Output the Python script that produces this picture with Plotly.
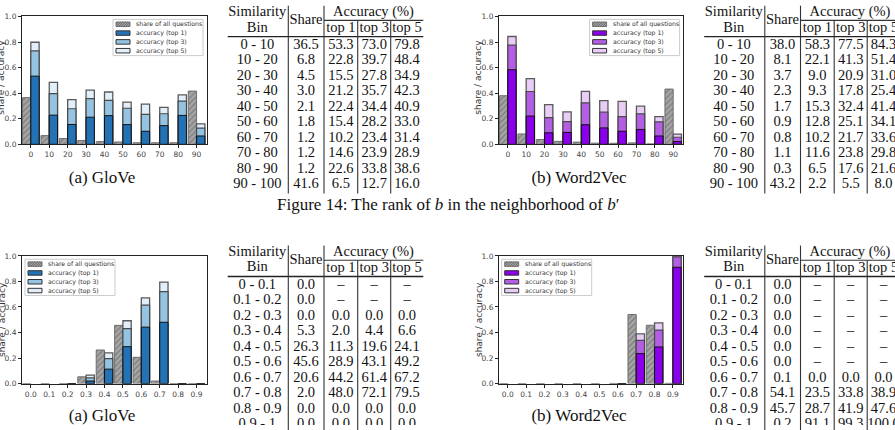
import plotly.graph_objects as go

W, H = 895, 430

# ---------------- data ----------------
top_bins = [0, 10, 20, 30, 40, 50, 60, 70, 80, 90]
top_bin_labels = ["0 - 10", "10 - 20", "20 - 30", "30 - 40", "40 - 50",
                  "50 - 60", "60 - 70", "70 - 80", "80 - 90", "90 - 100"]
top_tick_labels = ["0", "10", "20", "30", "40", "50", "60", "70", "80", "90"]

bot_bins = [0.0, 0.1, 0.2, 0.3, 0.4, 0.5, 0.6, 0.7, 0.8, 0.9]
bot_bin_labels = ["0 - 0.1", "0.1 - 0.2", "0.2 - 0.3", "0.3 - 0.4", "0.4 - 0.5",
                  "0.5 - 0.6", "0.6 - 0.7", "0.7 - 0.8", "0.8 - 0.9", "0.9 - 1"]
bot_tick_labels = ["0.0", "0.1", "0.2", "0.3", "0.4", "0.5", "0.6", "0.7", "0.8", "0.9"]

glove_rank_share = [36.5, 6.8, 4.5, 3.0, 2.1, 1.8, 1.2, 1.2, 1.2, 41.6]
glove_rank_top1 = [53.3, 22.8, 15.5, 21.2, 22.4, 15.4, 10.2, 14.6, 22.6, 6.5]
glove_rank_top3 = [73.0, 39.7, 27.8, 35.7, 34.4, 28.2, 23.4, 23.9, 33.8, 12.7]
glove_rank_top5 = [79.8, 48.4, 34.9, 42.3, 40.9, 33.0, 31.4, 28.9, 38.6, 16.0]

w2v_rank_share = [38.0, 8.1, 3.7, 2.3, 1.7, 0.9, 0.8, 1.1, 0.3, 43.2]
w2v_rank_top1 = [58.3, 22.1, 9.0, 9.3, 15.3, 12.8, 10.2, 11.6, 6.5, 2.2]
w2v_rank_top3 = [77.5, 41.3, 20.9, 17.8, 32.4, 25.1, 21.7, 23.8, 17.6, 5.5]
w2v_rank_top5 = [84.3, 51.4, 31.0, 25.4, 41.4, 34.1, 33.6, 29.8, 21.6, 8.0]

glove_sim_share = [0.0, 0.0, 0.0, 5.3, 26.3, 45.6, 20.6, 2.0, 0.0, 0.0]
glove_sim_top1 = [None, None, 0.0, 2.0, 11.3, 28.9, 44.2, 48.0, 0.0, 0.0]
glove_sim_top3 = [None, None, 0.0, 4.4, 19.6, 43.1, 61.4, 72.1, 0.0, 0.0]
glove_sim_top5 = [None, None, 0.0, 6.6, 24.1, 49.2, 67.2, 79.5, 0.0, 0.0]

w2v_sim_share = [0.0, 0.0, 0.0, 0.0, 0.0, 0.0, 0.1, 54.1, 45.7, 0.2]
w2v_sim_top1 = [None, None, None, None, None, None, 0.0, 23.5, 28.7, 91.1]
w2v_sim_top3 = [None, None, None, None, None, None, 0.0, 33.8, 41.9, 99.3]
w2v_sim_top5 = [None, None, None, None, None, None, 0.0, 38.9, 47.6, 100.0]

legend_labels = ["share of all questions", "accuracy (top 1)",
                 "accuracy (top 3)", "accuracy (top 5)"]

glove_colors = ["#2372b6", "#94c4e2", "#e2eef9"]
w2v_colors = ["#8a00ea", "#b45ee6", "#e8cdf6"]
share_color = "#a6a6a6"
hatch_color = "#555555"


def px(x):
    return x / W


def py(y):
    return 1 - y / H


def frac(vals):
    return [None if v is None else v / 100.0 for v in vals]


fig = go.Figure()
shapes = []
annotations = []

serif = "Liberation Serif"
sans = "DejaVu Sans"

charts = [
    dict(i=1, bins=top_bins, ticks=top_tick_labels, unit=10.0,
         data=(glove_rank_share, glove_rank_top1, glove_rank_top3, glove_rank_top5),
         colors=glove_colors, box=(22, 12.7, 206.7, 143.3), leg=(113, 15.7)),
    dict(i=2, bins=top_bins, ticks=top_tick_labels, unit=10.0,
         data=(w2v_rank_share, w2v_rank_top1, w2v_rank_top3, w2v_rank_top5),
         colors=w2v_colors, box=(499, 12.7, 683.3, 143.3), leg=(589.6, 15.7)),
    dict(i=3, bins=bot_bins, ticks=bot_tick_labels, unit=0.1,
         data=(glove_sim_share, glove_sim_top1, glove_sim_top3, glove_sim_top5),
         colors=glove_colors, box=(22, 257.3, 206.7, 387.7), leg=(25, 260.7)),
    dict(i=4, bins=bot_bins, ticks=bot_tick_labels, unit=0.1,
         data=(w2v_sim_share, w2v_sim_top1, w2v_sim_top3, w2v_sim_top5),
         colors=w2v_colors, box=(499, 257.3, 683.0, 387.7), leg=(501.7, 260.7)),
]

layout_axes = {}
for c in charts:
    i = c["i"]
    xa = "x" if i == 1 else f"x{i}"
    ya = "y" if i == 1 else f"y{i}"
    u = c["unit"]
    bw = 0.45 * u
    share, t1, t3, t5 = c["data"]
    # share bars (hatched), left of tick
    fig.add_trace(go.Bar(
        x=c["bins"], y=frac(share), xaxis=xa, yaxis=ya,
        offset=-bw, width=bw,
        marker=dict(color=share_color,
                    line=dict(color="#6e6e6e", width=1),
                    pattern=dict(shape="/", fillmode="overlay", fgcolor=hatch_color,
                                 size=4, solidity=0.35)),
        showlegend=False, hoverinfo="skip"))
    for vals, col, lc, lw in [(t5, c["colors"][2], "#5a5a5a", 1.3),
                              (t3, c["colors"][1], "#4a4a4a", 1.2),
                              (t1, c["colors"][0], "#111111", 1.0)]:
        fig.add_trace(go.Bar(
            x=c["bins"], y=frac(vals), xaxis=xa, yaxis=ya,
            offset=0, width=bw,
            marker=dict(color=col, line=dict(color=lc, width=lw)),
            showlegend=False, hoverinfo="skip"))

    x0, y0, x1, y1 = c["box"]
    axis_common = dict(showline=True, mirror=True, linecolor="#222222", linewidth=1,
                       ticks="outside", ticklen=3, tickcolor="#222222", tickwidth=1,
                       tickfont=dict(family=sans, size=7.5, color="#444444"),
                       showgrid=False, zeroline=False, fixedrange=True)
    layout_axes["xaxis" if i == 1 else f"xaxis{i}"] = dict(
        axis_common, domain=[px(x0), px(x1)], anchor=ya,
        range=[-0.48 * u, 9.55 * u], tickvals=c["bins"], ticktext=c["ticks"])
    layout_axes["yaxis" if i == 1 else f"yaxis{i}"] = dict(
        axis_common, domain=[py(y1), py(y0)], anchor=xa,
        range=[0, 1.0], tickvals=[0, 0.2, 0.4, 0.6, 0.8, 1.0], tickformat=".1f")

    # y-axis title
    annotations.append(dict(x=px(x0 - 20.7), y=py((y0 + y1) / 2 - (3 if i <= 2 else 0)),
                            xref="paper", yref="paper", text="share / accuracy",
                            textangle=-90, showarrow=False,
                            font=dict(family=sans, size=9, color="#333333"),
                            xanchor="center", yanchor="middle"))

    # manual legend
    lx, ly = c["leg"]
    shapes.append(dict(type="rect", xref="paper", yref="paper",
                       x0=px(lx), x1=px(lx + 90), y0=py(ly), y1=py(ly + 37),
                       line=dict(color="#cccccc", width=1), fillcolor="rgba(255,255,255,0.85)"))
    patch_cols = [share_color, c["colors"][0], c["colors"][1], c["colors"][2]]
    for k in range(4):
        cy = ly + 5 + 9 * k
        a0, a1 = lx + 3, lx + 17
        b0, b1 = cy - 2.3, cy + 2.3
        shapes.append(dict(type="rect", xref="paper", yref="paper",
                           x0=px(a0), x1=px(a1), y0=py(b1), y1=py(b0),
                           fillcolor=patch_cols[k],
                           line=dict(color="#333333" if k else "#777777", width=1)))
        if k == 0:
            h = b1 - b0
            t = a0 - h
            while t < a1:
                sx0, sy0 = t, b1
                sx1, sy1 = t + h, b0
                if sx0 < a0:
                    sy0 = b1 - (a0 - sx0)
                    sx0 = a0
                if sx1 > a1:
                    sy1 = b0 + (sx1 - a1)
                    sx1 = a1
                shapes.append(dict(type="line", xref="paper", yref="paper",
                                   x0=px(sx0), y0=py(sy0), x1=px(sx1), y1=py(sy1),
                                   line=dict(color=hatch_color, width=0.8)))
                t += 2.4
        annotations.append(dict(x=px(lx + 21), y=py(cy), xref="paper", yref="paper",
                                text=legend_labels[k], showarrow=False,
                                font=dict(family=sans, size=6.2, color="#333333"),
                                xanchor="left", yanchor="middle"))


# ---------------- tables (text on a full-page pixel axis so edges clip) ----------------
def fmt(v):
    return "–" if v is None else f"{v:.1f}"


tx, ty, tt = [], [], []


def draw_table(dx, dy, labels, share, t1, t3, t5):
    def X(x):
        return px(x + dx)

    def Y(y):
        return py(y + dy)

    line_c = "#333333"
    shapes.append(dict(type="line", xref="paper", yref="paper",
                       x0=X(227.7), x1=X(423.3), y0=Y(33.3), y1=Y(33.3),
                       line=dict(color="#222222", width=1.4)))
    shapes.append(dict(type="line", xref="paper", yref="paper",
                       x0=X(324.0), x1=X(423.3), y0=Y(16.7), y1=Y(16.7),
                       line=dict(color=line_c, width=1.1)))
    for vx, vy in [(288.3, 1.7), (324.0, 1.7), (357.7, 16.7), (390.7, 16.7)]:
        shapes.append(dict(type="line", xref="paper", yref="paper",
                           x0=X(vx), x1=X(vx), y0=Y(vy), y1=Y(193.5),
                           line=dict(color=line_c, width=1.1)))

    def txt(x, y, s):
        tx.append(x + dx)
        ty.append(y + dy)
        tt.append(s)

    txt(257.3, 8.6, "Similarity")
    txt(257.3, 24.5, "Bin")
    txt(306.0, 16.5, "Share")
    txt(373.5, 8.6, "Accuracy (%)")
    txt(340.9, 24.8, "top 1")
    txt(374.2, 24.8, "top 3")
    txt(407.0, 24.8, "top 5")
    for r in range(len(labels)):
        yy = 41.9 + 15.87 * r
        txt(257.3, yy, labels[r])
        txt(306.0, yy, fmt(share[r]))
        txt(340.9, yy, fmt(t1[r]))
        txt(374.2, yy, fmt(t3[r]))
        txt(407.0, yy, fmt(t5[r]))


draw_table(0, 0, top_bin_labels, glove_rank_share, glove_rank_top1, glove_rank_top3, glove_rank_top5)
draw_table(476.5, 0, top_bin_labels, w2v_rank_share, w2v_rank_top1, w2v_rank_top3, w2v_rank_top5)
draw_table(0, 245, bot_bin_labels, glove_sim_share, glove_sim_top1, glove_sim_top3, glove_sim_top5)
draw_table(476.5, 245, bot_bin_labels, w2v_sim_share, w2v_sim_top1, w2v_sim_top3, w2v_sim_top5)

fig.add_trace(go.Scatter(
    x=tx, y=ty, text=tt, mode="text", textposition="middle center",
    textfont=dict(family=serif, size=14.5, color="#111111"),
    xaxis="x5", yaxis="y5", cliponaxis=True, showlegend=False, hoverinfo="skip"))

# ---------------- captions ----------------
cap_x = [102, 579, 102, 579]
cap_y = [178, 178, 421.5, 421.5]
cap_t = ["(a) GloVe", "(b) Word2Vec", "(a) GloVe", "(b) Word2Vec"]
fig.add_trace(go.Scatter(
    x=cap_x, y=cap_y, text=cap_t, mode="text", textposition="middle center",
    textfont=dict(family=serif, size=17, color="#111111"),
    xaxis="x5", yaxis="y5", cliponaxis=True, showlegend=False, hoverinfo="skip"))

annotations.append(dict(x=px(448), y=py(205), xref="paper", yref="paper",
                        text="Figure 14: The rank of <i>b</i> in the neighborhood of <i>b</i>′",
                        showarrow=False, font=dict(family=serif, size=17, color="#111111"),
                        xanchor="center", yanchor="middle"))

layout_axes["xaxis5"] = dict(domain=[0, 1], range=[0, W], visible=False, fixedrange=True,
                             anchor="y5", showgrid=False, zeroline=False)
layout_axes["yaxis5"] = dict(domain=[0, 1], range=[H, 0], visible=False, fixedrange=True,
                             anchor="x5", showgrid=False, zeroline=False)

fig.update_layout(
    width=W, height=H, margin=dict(l=0, r=0, t=0, b=0, pad=0),
    paper_bgcolor="white", plot_bgcolor="rgba(0,0,0,0)",
    barmode="overlay", showlegend=False,
    shapes=shapes, annotations=annotations,
    **layout_axes,
)

fig.write_html("out.html")
